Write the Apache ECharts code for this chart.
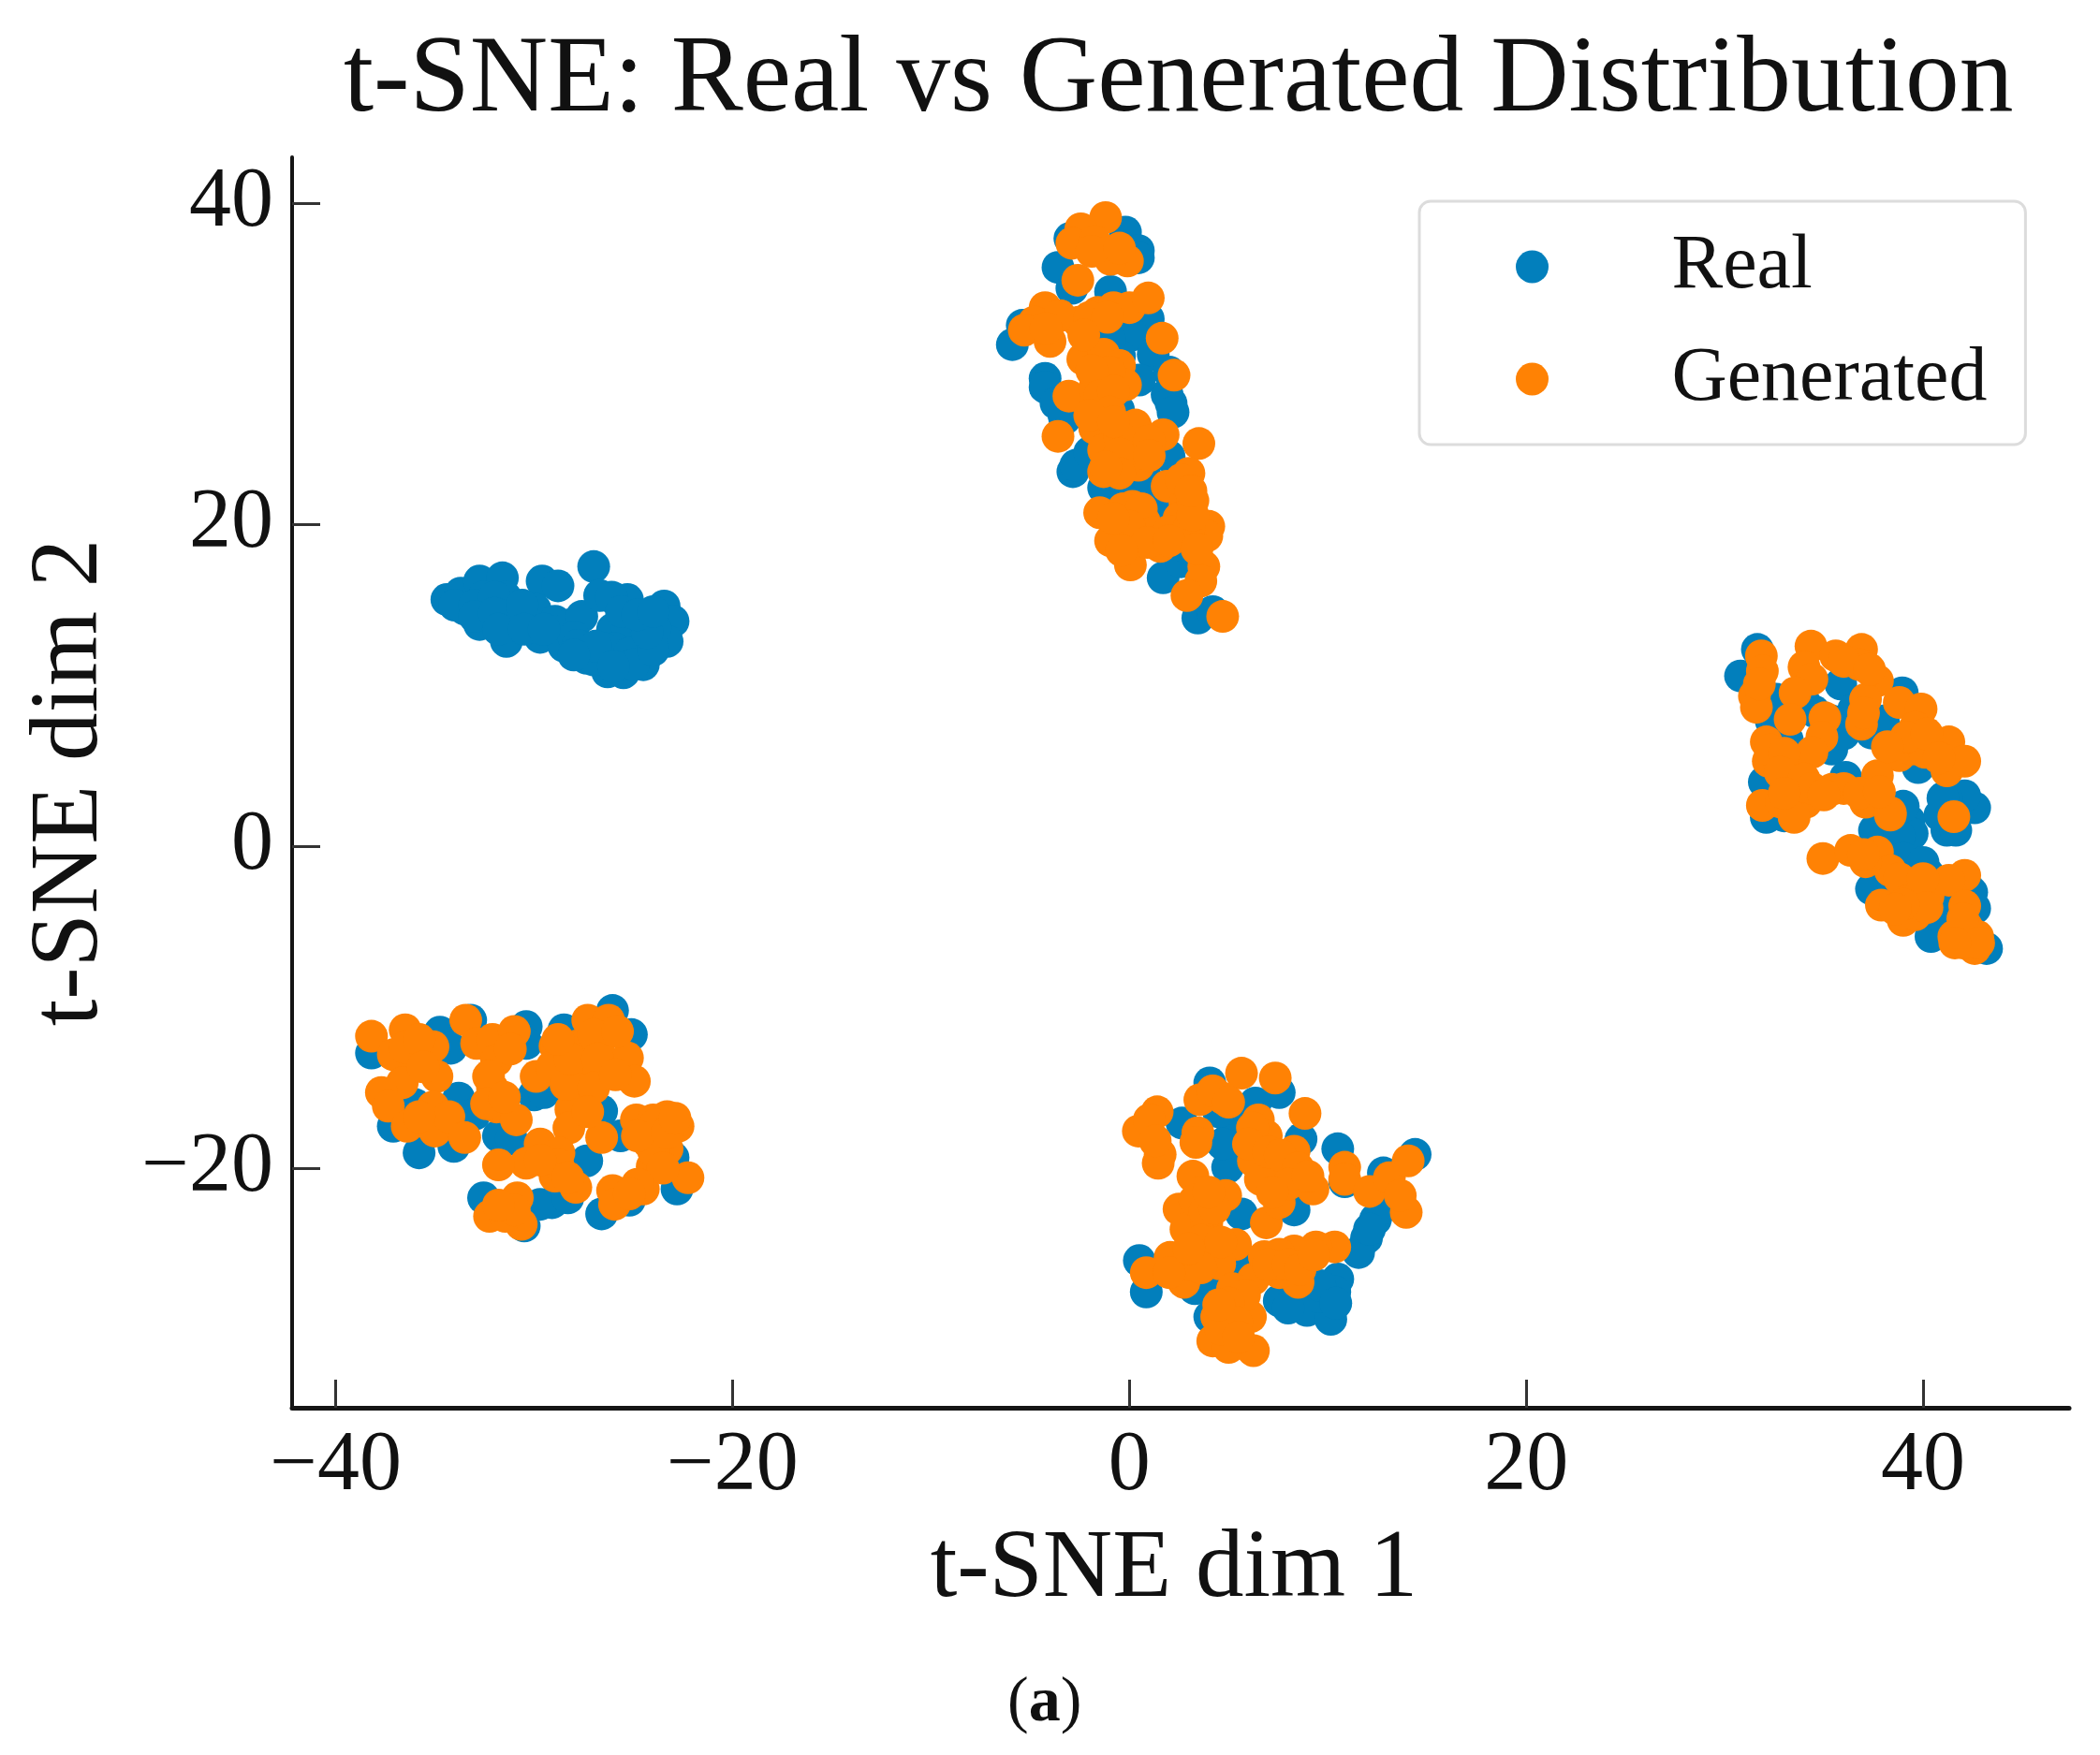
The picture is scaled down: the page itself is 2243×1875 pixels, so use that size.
<!DOCTYPE html>
<html><head><meta charset="utf-8">
<style>html,body{margin:0;padding:0;background:#fff}#c{width:2243px;height:1875px}</style>
<script src="https://cdn.jsdelivr.net/npm/echarts@6/dist/echarts.min.js"></script>
</head><body><div id="c"></div>
<script>
const seriesNames = ['Real','Generated'];
const xTicks = [-40,-20,0,20,40];
const yTicks = [-20,0,20,40];
const titleText = 't-SNE: Real vs Generated Distribution';
const xName = 't-SNE dim 1';
const yName = 't-SNE dim 2';

const realTop = [[-0.2,38.2],[0.45,37.05],[0.45,36.6],[-3.6,36],[-3,37.8],[-2.9,34.7],[-0.95,34.5],[-5.9,31.2],[-5.4,32.4],[-0.5,32],[0.95,32.8],[0.15,31.8],[1.2,30.6],[2,29.5],[1.9,28.1],[2.1,27.55],[-4.25,29.1],[-4.25,28.55],[-3.7,27.55],[-3.25,26.6],[-0.55,27.15],[-3.3,26.8],[-2.85,23.3],[-2.7,23.7],[-1.3,22.3],[-0.65,26.8],[2.2,27],[2,24.25],[0.5,22.4],[1.65,21.15],[1.7,16.7],[2.6,17.7],[3.45,14.2],[4.2,14.6],[-0.5,30.5],[0.5,29],[-1,31.5],[-2.2,27],[-1,25],[0.8,23],[-0.2,21.5],[1,20],[2,19],[3,18.5],[-0.5,19.5],[-2,24.5]];
const realRight = [[31.65,12.25],[30.8,10.6],[35.85,10.1],[38.95,9.55],[37.4,7.05],[38,7.8],[35.4,7.8],[35.4,6.05],[33.15,6.65],[32.6,9.15],[32.35,7.8],[36.1,4.3],[32,4],[39.75,4.9],[32.1,1.8],[41.2,1],[42.6,2.4],[42.1,3.15],[41.2,2.95],[40.85,1.95],[41.65,1],[39.3,1.6],[39.45,0.8],[37.55,1],[38.8,0.65],[39,-0.75],[40.25,-1.7],[37.4,-2.65],[40.4,-5.6],[42.6,-3.85],[43.2,-6.35],[42.45,-2.85],[36.5,8.5],[34,9],[34.5,8.4],[36,7],[33,1.9],[40,-1],[38,-1],[41,-4.5],[41.5,-3],[41,3],[39,2.5],[38.5,-2.5],[33,6],[40,-4]];
const realLeft = [[-34.4,15.35],[-33.7,15.75],[-32.75,16.5],[-31.6,16.7],[-33.5,14.75],[-32.55,15.5],[-31.45,15.5],[-32.75,13.8],[-31.8,14.35],[-31.4,12.75],[-30.85,14],[-29.6,16.5],[-28.8,16.2],[-29.95,14.75],[-29.7,13],[-28.95,14],[-27,17.4],[-28.15,13.8],[-28.5,12.45],[-27.6,14.3],[-27.35,11.7],[-26.3,10.85],[-25.5,10.8],[-24.5,11.3],[-25.3,15.35],[-26.7,15.6],[-26.1,15.5],[-26.05,13.5],[-25.3,13.6],[-24.7,12.45],[-23.45,14.95],[-23,14],[-23.3,12.75],[-23.9,13.6],[-25.95,12.3],[-28,13],[-27,11.6],[-34,15],[-33,15],[-32,15.5],[-33,14.3],[-32,14.5],[-31.8,13.5],[-30.6,15],[-30.5,13.5],[-29.5,13.5],[-27.8,12.5],[-26.5,12.3],[-26.9,12.45],[-25.2,12],[-25,11.3],[-26,11.2],[-24,12.2],[-24.3,13.3],[-25.6,14.6],[-24.8,14.4],[-24,14.6],[-28,11.9]];
const realBottomLeft = [[-38.2,-12.85],[-34.75,-11.55],[-34.2,-12.55],[-33.2,-10.8],[-30.4,-11.2],[-30.4,-12.25],[-28.5,-11.4],[-26.05,-10.2],[-25.1,-11.7],[-36,-16.05],[-37.1,-17.4],[-35.8,-19.05],[-34.05,-18.65],[-33.8,-15.65],[-33,-16.65],[-31.8,-18],[-31.15,-18.2],[-30,-15.45],[-29.5,-15.3],[-26.6,-16.45],[-27.35,-19.55],[-25.65,-18],[-22.8,-21.3],[-25.2,-22],[-32.55,-21.85],[-29.1,-22.15],[-29.7,-22.25],[-26.6,-22.85],[-30.5,-23.6],[-28.3,-21.85],[-23,-19.35]];
const realBottomCenter = [[4.05,-14.7],[7.55,-15.3],[6.35,-15.95],[2.65,-17.2],[5,-18.2],[4.95,-19.95],[8.65,-18.2],[10.5,-18.8],[10.85,-20.85],[12.8,-20.3],[14.4,-19.15],[5.65,-22.85],[8.3,-22.6],[12.4,-23.2],[11.95,-24.35],[11.55,-25.25],[0.5,-25.75],[0.85,-27.7],[3.3,-27.5],[4.05,-26.9],[5.8,-25.95],[7.55,-28.25],[8.95,-28.85],[10.5,-26.9],[10.35,-27.7],[10.15,-29.4],[4.05,-29.25],[5.2,-17],[4.5,-16.5],[4.7,-18.5],[12.7,-22.5],[12.1,-23.8],[9.5,-28],[9.6,-27.3],[8,-28.7],[10.4,-28.4]];

const genTop = [[-1.2,39.1],[-2.45,38.4],[-2.9,37.5],[-1.75,37.6],[-0.1,36.4],[-0.95,36.5],[-2.6,35.2],[-4.25,33.5],[-4.8,32.6],[-5.3,32.1],[-4,31.4],[-2.55,32.6],[-1.6,33.2],[-0.8,33.5],[0,33.5],[0.95,34.1],[1.65,31.6],[2.25,29.3],[-2.35,30.3],[-1.3,30.6],[-0.5,29.9],[-0.2,28.7],[-3.05,28],[-1.75,28.5],[-1.75,27.2],[-3.6,25.5],[-1.75,26],[-1.3,24.65],[0.3,26.2],[0.3,24.65],[-1.3,23.3],[0.45,23.7],[1.7,25.6],[3.5,25.05],[3,23.2],[1.9,22.4],[2.8,21.35],[-1.5,20.75],[0.15,21.15],[-0.5,19.8],[-0.95,19],[0.75,20.2],[1.55,18.65],[0.3,18.8],[0.05,17.5],[2.5,20.4],[4,19.9],[3.9,19.3],[3.75,17.4],[3.6,16.5],[2.9,15.6],[4.7,14.3],[-1.9,37],[-0.5,37.2],[-3.5,33],[-4.2,32.2],[-2,32.9],[-1.1,32.9],[-2.3,31.8],[-1,29.5],[-1.9,29.6],[-1.5,28],[-0.8,28.3],[-1,27],[-2,26.8],[-0.5,25.5],[-0.5,24.4],[-0.8,26.4],[1,25.2],[1,24.3],[-0.5,23.2],[-1.2,23.6],[-0.3,21],[0.6,21],[1.2,19.5],[0,19.9],[-0.8,20.4],[2,19.6],[3,19.8],[3.2,21.5],[3.2,20.6],[2.6,22.8],[3.1,22.1],[0.9,18.9],[2,19],[-0.4,18.4],[3.4,18.5]];
const genRight = [[31.85,11.85],[31.9,10.9],[31.5,9.35],[31.6,8.65],[34.35,12.45],[34,11.15],[34.4,10.4],[35.6,11.85],[36.9,12.25],[36.8,11.3],[37.7,10.3],[37.1,9.15],[36.9,7.6],[38.8,8.95],[39.9,8.55],[39.6,7.4],[33.55,9.55],[33.3,7.9],[35.05,8],[34.9,6.8],[34.4,5.85],[32.1,6.5],[32.2,5.3],[33.15,4.9],[33.3,3.9],[35.4,3.55],[31.9,2.55],[32.85,2.75],[34.1,2.75],[33.5,1.8],[38.8,5.65],[39.45,6.05],[40.1,5.85],[41.3,6.5],[41.2,4.7],[42.1,5.3],[37.7,4.4],[37.1,2.75],[38.35,2.1],[41.55,1.85],[34.95,-0.75],[36.35,-0.25],[37.7,-0.35],[38.35,-1.5],[37.1,-0.95],[37.9,-3.65],[39,-4.6],[39.45,-2.65],[40.25,-3.1],[39.6,-4.25],[42.1,-1.8],[41.3,-2.1],[42.1,-3.7],[41.55,-5.6],[42.6,-6.35],[42,-6],[42.75,-5.6],[38.35,1.95],[32.3,6],[33,5.8],[32.8,4.6],[34,4.2],[34.4,3.6],[33,3.3],[36,3.6],[35,3.2],[36.8,3.3],[37.8,3.4],[36,11.5],[37.3,11],[37,8.3],[39.15,6.8],[38.2,6.2],[40.2,7],[40.8,5.5],[31.75,10.1],[37,-0.5],[38.8,-2],[39.2,-3.4],[40,-2],[40.2,-3.8],[39,-3.6],[38.6,-3.9],[42.2,-5],[42,-4.5],[42.8,-6],[41.6,-6]];
const genBottomLeft = [[-38.2,-11.8],[-36.5,-11.4],[-35.1,-12.45],[-37.1,-12.95],[-36,-13.15],[-34.9,-14.3],[-36.65,-14.7],[-37.7,-15.3],[-37.35,-16.15],[-36.4,-17.4],[-35.1,-16.2],[-35,-17.7],[-34.3,-16.8],[-33.5,-18.1],[-33.45,-10.8],[-32.9,-12.25],[-32.1,-12],[-31,-11.5],[-31.9,-13.3],[-32.1,-15.05],[-31.9,-16.2],[-30.9,-17],[-29.9,-14.3],[-28.95,-12.4],[-29.1,-13.7],[-27.3,-10.8],[-26.25,-10.8],[-27.85,-12.4],[-26.75,-12.4],[-25.3,-13.15],[-24.95,-14.6],[-27.7,-13.7],[-26.75,-14.1],[-27.85,-15.05],[-28.15,-16.35],[-28.25,-17.5],[-29.7,-18.5],[-30.4,-19.7],[-31.8,-19.8],[-28.75,-19.05],[-28.95,-20.5],[-27.9,-21.2],[-26.6,-18.1],[-24.85,-17],[-23.3,-16.8],[-22.75,-17.4],[-24.25,-18.4],[-23.3,-18.8],[-24.05,-19.9],[-24.5,-21.3],[-26.05,-21.4],[-25.95,-22.25],[-22.25,-20.6],[-30.85,-21.85],[-32.25,-23],[-30.65,-23.5],[-31.45,-23],[-36.5,-12.5],[-35.8,-12],[-35.6,-13.7],[-35.8,-16.8],[-32.3,-14.3],[-31.2,-12.6],[-32.4,-16],[-31.5,-15.6],[-28.4,-14.8],[-28.2,-13.2],[-28.8,-12],[-27,-11.7],[-26.8,-13.2],[-27,-15],[-25.9,-14.2],[-25.8,-11.5],[-27.3,-16.5],[-28.8,-19.8],[-29.7,-19.5],[-28.3,-20.6],[-24,-17],[-23.9,-17.3],[-24,-18.9],[-24.8,-18],[-23.5,-20],[-24.8,-21],[-25.2,-21.6],[-23.3,-17.8],[-22.9,-16.9],[-31,-22.6],[-31.8,-22.3]];
const genBottomCenter = [[5.65,-14.1],[7.35,-14.4],[8.85,-16.6],[3.55,-15.75],[4.7,-15.65],[1.4,-16.5],[0.45,-17.7],[1.55,-19.15],[1.45,-19.7],[3.45,-17.8],[3.35,-18.4],[6.5,-17],[6.9,-18],[8.3,-18.95],[6.25,-19.55],[7.35,-20.3],[6.6,-20.7],[9.25,-21.3],[10.85,-19.95],[10.85,-20.7],[3.2,-20.5],[4.85,-21.7],[2.5,-22.55],[2.85,-23.8],[3.9,-23.4],[6.9,-23.4],[7.55,-22.15],[12.1,-21.45],[13.1,-20.6],[14.05,-19.55],[13.95,-22.75],[13.65,-21.7],[10.35,-24.9],[9.4,-24.9],[8.3,-25.15],[7.55,-25.35],[2.05,-25.55],[0.85,-26.5],[2.75,-27.1],[3.9,-25.15],[5.35,-24.75],[4.55,-25.95],[8.5,-27.1],[7.55,-26.5],[6.25,-26.9],[5.2,-27.5],[4.4,-29.25],[6.1,-29.25],[5.35,-28.45],[4.2,-30.75],[5,-31.15],[6.25,-31.35],[1,-17],[1.3,-18.3],[4.2,-15.2],[5,-15.9],[3.6,-21.5],[3.3,-22],[3.8,-22.7],[6.2,-17.5],[6,-18.5],[7,-19],[7.6,-19.2],[8.5,-20],[8,-21],[9,-20.5],[7.2,-21.5],[4.3,-22.5],[4,-21.5],[3.6,-24.5],[4.6,-24.6],[3,-26],[3.6,-26.2],[2,-26.5],[3,-25],[6.8,-25.5],[7,-26],[8,-26],[8.6,-26.3],[9.3,-25.4],[5.8,-27.9],[5,-28.4],[5.4,-29.6],[4.6,-30],[5.5,-30.5],[4.5,-28.5]];

const realPoints = [].concat(realTop, realRight, realLeft, realBottomLeft, realBottomCenter);
const generatedPoints = [].concat(genTop, genRight, genBottomLeft, genBottomCenter);

const SERIF = '"Liberation Serif","Times New Roman",serif';
const fmt = v => String(v).replace('-', '\u2212');
const axisCommon = {
  type: 'value', nameLocation: 'middle', splitLine: {show: false},
  nameTextStyle: {fontFamily: SERIF, fontSize: 103, color: '#111'}
};
const chart = echarts.init(document.getElementById('c'), null, {renderer: 'canvas'});
chart.setOption({
  animation: false,
  backgroundColor: '#fff',
  textStyle: {fontFamily: SERIF},
  title: [
    {text: titleText, left: 367, top: 30, padding: 0, textStyle: {fontFamily: SERIF, fontSize: 115.5, fontWeight: 'normal', color: '#111'}},
    {text: '({b|a})', left: 1076, top: 1786, padding: 0, textStyle: {fontFamily: SERIF, fontSize: 68, fontWeight: 'normal', color: '#111',
      rich: {b: {fontFamily: SERIF, fontSize: 68, fontWeight: 'bold', color: '#111'}}}}
  ],
  grid: {left: 312, right: 33, top: 168, bottom: 371, containLabel: false, outerBoundsMode: 'none'},
  xAxis: Object.assign({}, axisCommon, {
    min: -42.2, max: 47.36, name: xName, nameGap: 122, nameTextStyle: Object.assign({}, axisCommon.nameTextStyle, {padding: [0, 14, 0, 0]}),
    axisLine: {show: true, onZero: false, lineStyle: {color: '#151515', width: 5}},
    axisTick: {show: true, inside: true, length: 30, customValues: xTicks, lineStyle: {color: '#333', width: 3}},
    axisLabel: {customValues: xTicks, formatter: fmt, margin: 18, fontFamily: SERIF, fontSize: 90, color: '#111'}
  }),
  yAxis: Object.assign({}, axisCommon, {
    min: -34.9, max: 42.85, name: yName, nameGap: 185,
    axisLine: {show: true, onZero: false, lineStyle: {color: '#151515', width: 4}},
    axisTick: {show: true, inside: true, length: 30, customValues: yTicks, lineStyle: {color: '#333', width: 3}},
    axisLabel: {customValues: yTicks, formatter: fmt, margin: 20, fontFamily: SERIF, fontSize: 90, color: '#111'}
  }),
  legend: {
    data: seriesNames, orient: 'vertical', left: 1516, top: 215, icon: 'circle',
    itemWidth: 190, itemHeight: 35, itemGap: 38, itemStyle: {opacity: 1},
    padding: [29, 41, 29, 103], backgroundColor: '#fff', borderColor: '#dcdcdc', borderWidth: 3, borderRadius: 12,
    textStyle: {fontFamily: SERIF, fontSize: 82, color: '#111', padding: [0, 0, 0, 49]}
  },
  series: [
    {name: seriesNames[0], type: 'scatter', data: realPoints, symbolSize: 35, itemStyle: {color: '#027fbc', opacity: 1}, emphasis: {disabled: true}},
    {name: seriesNames[1], type: 'scatter', data: generatedPoints, symbolSize: 35, itemStyle: {color: '#ff8204', opacity: 1}, emphasis: {disabled: true}}
  ]
});
</script></body></html>
